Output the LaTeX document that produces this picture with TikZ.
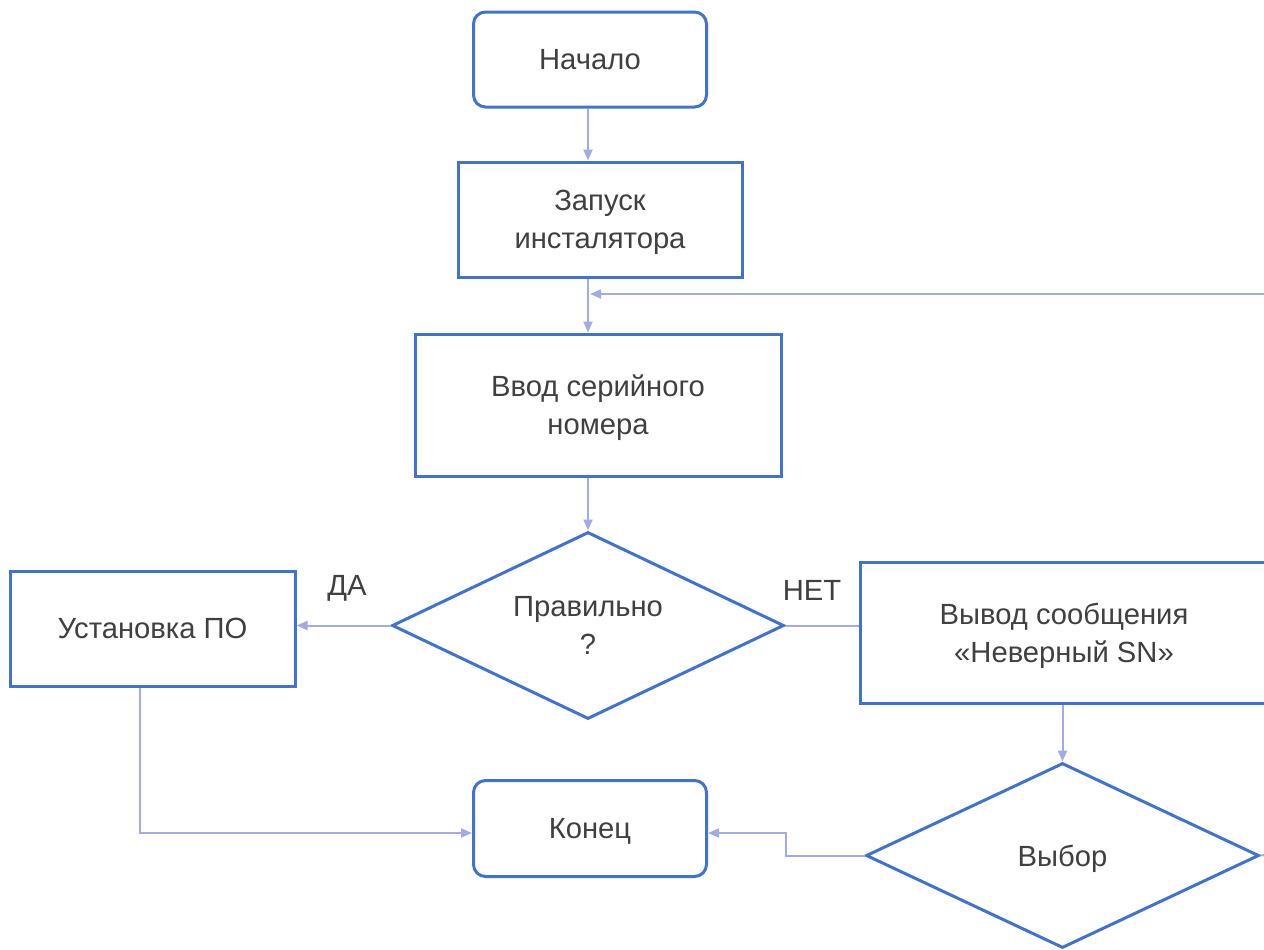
\documentclass[tikz,border=0pt]{standalone}
\usepackage{fontspec}
\setmainfont{Liberation Sans}
\usetikzlibrary{shapes.geometric,arrows.meta}
\definecolor{boxblue}{HTML}{4472C4}
\definecolor{connblue}{HTML}{A2ACE0}
\definecolor{txt}{HTML}{404040}
\begin{document}
\begin{tikzpicture}[x=0.5pt,y=-0.5pt,
  every node/.style={font=\fontsize{14.6pt}{19pt}\selectfont, text=txt, align=center},
  procbox/.style={draw=boxblue, line width=1.5pt, rectangle, inner sep=0pt, text depth=-0.6pt},
  termbox/.style={procbox, rounded corners=6pt},
  decbox/.style={draw=boxblue, line width=1.5pt, diamond, aspect=2.1, inner sep=0pt, text depth=-0.6pt},
  conn/.style={draw=connblue, line width=1pt, -{Triangle[length=5.5pt,width=4.5pt]}},
  plain/.style={draw=connblue, line width=1pt},
  lbl/.style={inner sep=0pt}]
\path[use as bounding box, clip] (0,0) rectangle (1264,949);
\fill[white] (0,0) rectangle (1264,949);

\node[termbox, minimum width=116.5pt, minimum height=47.5pt] (start) at (590,59.5) {Начало};
\node[procbox, minimum width=142pt, minimum height=57.5pt] (inst) at (600,219.5) {Запуск\\инсталятора};
\node[procbox, minimum width=183pt, minimum height=71pt] (input) at (598,405) {Ввод серийного\\номера};
\node[decbox, minimum width=196pt, minimum height=93.5pt] (dec) at (588,625.5) {Правильно\\?};
\node[procbox, minimum width=142.5pt, minimum height=57.5pt] (inst2) at (152.5,628.5) {Установка ПО};
\node[procbox, minimum width=204pt, minimum height=70.5pt] (msg) at (1064,632.5) {Вывод сообщения\\«Неверный SN»};
\node[termbox, minimum width=116.5pt, minimum height=48pt] (fin) at (590,828.5) {Конец};
\node[decbox, minimum width=196.5pt, minimum height=92.5pt] (sel) at (1062.5,855.5) {Выбор};

\node[lbl] (yes) at (347,588) {ДА};
\node[lbl] (no) at (812,590) {НЕТ};

\coordinate (loopin) at (1266,294);
\coordinate (stub) at (1266,855);

\draw[conn] (dec.north |- start.south) -- (dec.north |- inst.north);
\draw[conn] (dec.north |- inst.south) -- (dec.north |- input.north);
\draw[conn] (loopin) -- ([xshift=1pt]loopin -| dec.north);
\draw[conn] (dec.north |- input.south) -- (dec.north);
\draw[conn] (dec.west) -- (dec.west -| inst2.east);
\draw[plain] (dec.east) -- (dec.east -| msg.west);
\draw[conn] (sel.north |- msg.south) -- (sel.north);
\draw[conn] ([xshift=-6.25pt]inst2.south) |- ([yshift=-2.25pt]fin.west);
\draw[conn] (sel.west) -- ++(-79,0) |- ([yshift=-2.25pt]fin.east);
\draw[plain] (sel.east) -- (stub);
\end{tikzpicture}
\end{document}
